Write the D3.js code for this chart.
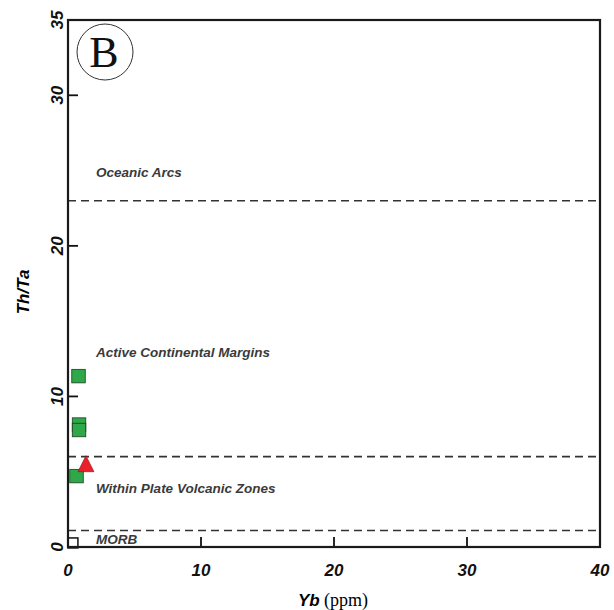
<!DOCTYPE html>
<html>
<head>
<meta charset="utf-8">
<title>Th/Ta vs Yb</title>
<script src="https://cdn.jsdelivr.net/npm/d3@7"></script>
<style>
  body { margin: 0; background: #fff; }
  .tick-lbl { font-family: "Liberation Sans", Arial, sans-serif; font-weight: bold; font-style: italic; font-size: 17px; fill: #111; }
  .field { font-family: "Liberation Sans", Arial, sans-serif; font-weight: bold; font-style: italic; font-size: 13.5px; fill: #3a3a3a; }
</style>
</head>
<body>
<script>
// field boundaries (Th/Ta)
var boundaries = [23, 6, 1.1];
var fieldNames = ["Oceanic Arcs", "Active Continental Margins", "Within Plate Volcanic Zones", "MORB"];
var fieldY = [24.9, 12.9, 3.9, 0.5];

// samples
var squareX = [0.79, 0.83, 0.83, 0.64];
var squareY = [11.35, 8.13, 7.77, 4.71];
var triX = [1.35];
var triY = [5.4];
var openX = [0.37];
var openY = [0.27];

var xTicks = [0, 10, 20, 30, 40];
var yTicks = [0, 10, 20, 30, 35];

var W = 614, H = 610;
var svg = d3.select("body").append("svg").attr("width", W).attr("height", H);

var x = d3.scaleLinear().domain([0, 40]).range([68, 600]);
var y = d3.scaleLinear().domain([0, 35]).range([547, 20]);

// dashed boundaries
svg.selectAll("line.bnd").data(boundaries).enter().append("line")
  .attr("x1", x(0)).attr("x2", x(40))
  .attr("y1", d => y(d)).attr("y2", d => y(d))
  .attr("stroke", "#333").attr("stroke-width", 1.6)
  .attr("stroke-dasharray", "8,5");

// field labels
svg.selectAll("text.field").data(fieldNames).enter().append("text")
  .attr("class", "field")
  .attr("x", 96)
  .attr("y", (d, i) => y(fieldY[i]))
  .attr("dy", "0.35em")
  .text(d => d);

// inward ticks
var tl = 10;
svg.selectAll("line.xt").data(xTicks.slice(1, 4)).enter().append("line")
  .attr("x1", d => x(d)).attr("x2", d => x(d))
  .attr("y1", y(0)).attr("y2", y(0) - tl)
  .attr("stroke", "#111").attr("stroke-width", 1.8);
svg.selectAll("line.yt").data(yTicks.slice(1, 4)).enter().append("line")
  .attr("x1", x(0)).attr("x2", x(0) + tl)
  .attr("y1", d => y(d)).attr("y2", d => y(d))
  .attr("stroke", "#111").attr("stroke-width", 1.8);

// open square near origin
svg.selectAll("rect.open").data(openX).enter().append("rect")
  .attr("x", (d, i) => x(d) - 5).attr("y", (d, i) => y(openY[i]) - 5)
  .attr("width", 10).attr("height", 10)
  .attr("fill", "#fff").attr("stroke", "#111").attr("stroke-width", 1.5);

// frame
svg.append("rect")
  .attr("x", x(0)).attr("y", y(35))
  .attr("width", x(40) - x(0)).attr("height", y(0) - y(35))
  .attr("fill", "none").attr("stroke", "#1a1a1a").attr("stroke-width", 2.2);

// green squares
var s = 13.5;
svg.selectAll("rect.sq").data(squareX).enter().append("rect")
  .attr("x", d => x(d) - s / 2)
  .attr("y", (d, i) => y(squareY[i]) - s / 2)
  .attr("width", s).attr("height", s)
  .attr("fill", "#2fa84a").attr("stroke", "#1f3a1f").attr("stroke-width", 0.8);

// red triangle
svg.selectAll("path.tri").data(triX).enter().append("path")
  .attr("d", "M0,-10L8,6L-8,6Z")
  .attr("transform", (d, i) => "translate(" + x(d) + "," + y(triY[i]) + ")")
  .attr("fill", "#e8202a").attr("stroke", "#8a1010").attr("stroke-width", 0.6);

// tick labels
svg.selectAll("text.xl").data(xTicks).enter().append("text")
  .attr("class", "tick-lbl")
  .attr("x", d => x(d)).attr("y", 576)
  .attr("text-anchor", "middle")
  .text(d => d);
svg.selectAll("text.yl").data(yTicks).enter().append("text")
  .attr("class", "tick-lbl")
  .attr("transform", d => "translate(63," + y(d) + ") rotate(-90)")
  .attr("text-anchor", "middle")
  .text(d => d);

// axis titles
var xt = svg.append("text").attr("x", 333).attr("y", 606).attr("text-anchor", "middle");
xt.append("tspan").attr("font-family", "Liberation Sans, Arial, sans-serif")
  .attr("font-weight", "bold").attr("font-style", "italic").attr("font-size", 17).text("Yb");
xt.append("tspan").attr("font-family", "Liberation Serif, Times New Roman, serif")
  .attr("font-size", 18).text(" (ppm)");

svg.append("text")
  .attr("transform", "translate(29,292) rotate(-90)")
  .attr("text-anchor", "middle")
  .attr("font-family", "Liberation Sans, Arial, sans-serif")
  .attr("font-weight", "bold").attr("font-style", "italic").attr("font-size", 17)
  .text("Th/Ta");

// panel letter
svg.append("circle").attr("cx", 105).attr("cy", 52).attr("r", 28)
  .attr("fill", "none").attr("stroke", "#333").attr("stroke-width", 1);
svg.append("text").attr("x", 104).attr("y", 67).attr("text-anchor", "middle")
  .attr("font-family", "Liberation Serif, Times New Roman, serif")
  .attr("font-size", 44).attr("fill", "#111").text("B");
</script>
</body>
</html>
